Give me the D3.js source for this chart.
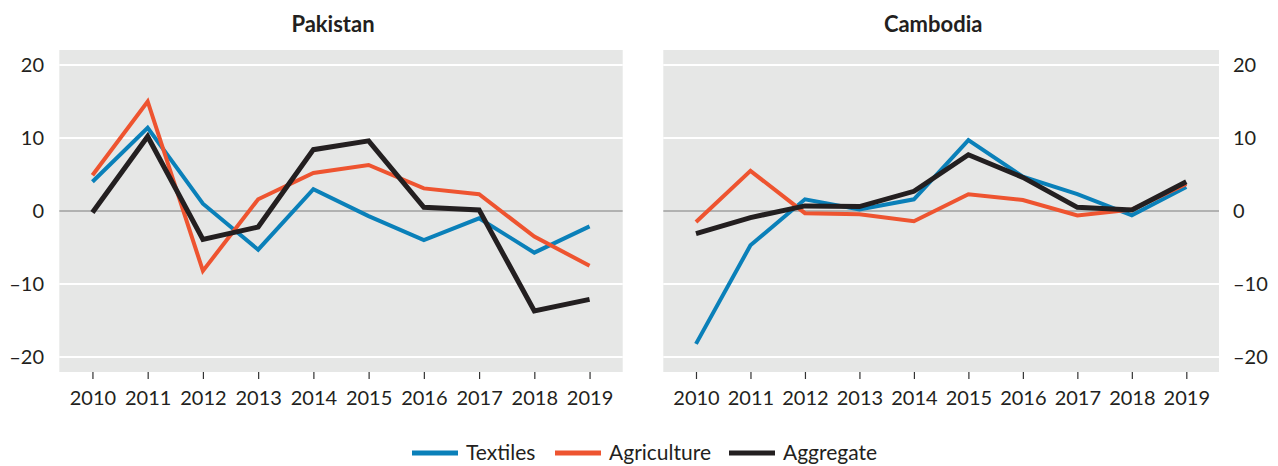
<!DOCTYPE html>
<html lang="en">
<head>
    <meta charset="UTF-8">
    <title>Textiles, Agriculture and Aggregate: Pakistan and Cambodia</title>
    <script src="https://d3js.org/d3.v7.min.js"></script>
    <style>
        body {
            margin: 0;
            background: #fff;
            font-family: Lato, "Open Sans", sans-serif;
        }
        svg text {
            fill: #231f20;
        }
    </style>
</head>
<body>
    <svg id="chart" width="1278" height="466"></svg>
    <script>
        const years = ["2010", "2011", "2012", "2013", "2014", "2015", "2016", "2017", "2018", "2019"];
        const seriesNames = ["Textiles", "Agriculture", "Aggregate"];
        const yTicks = [-20, -10, 0, 10, 20];

        // Pakistan
        const pakTextiles = [4.0, 11.4, 1.0, -5.3, 3.0, -0.7, -4.0, -1.0, -5.7, -2.1];
        const pakAgriculture = [4.9, 15.0, -8.2, 1.6, 5.2, 6.3, 3.1, 2.3, -3.5, -7.5];
        const pakAggregate = [-0.2, 10.2, -3.9, -2.2, 8.4, 9.6, 0.5, 0.15, -13.7, -12.1];

        // Cambodia
        const camTextiles = [-18.2, -4.7, 1.6, 0.2, 1.6, 9.7, 4.7, 2.3, -0.6, 3.3];
        const camAgriculture = [-1.5, 5.5, -0.3, -0.45, -1.4, 2.3, 1.5, -0.6, 0.2, 3.7];
        const camAggregate = [-3.1, -0.9, 0.7, 0.6, 2.7, 7.7, 4.6, 0.5, 0.15, 4.0];

        const colors = {
            Textiles: "#0a80b9",
            Agriculture: "#ee5430",
            Aggregate: "#231f20"
        };
        const widths = { Textiles: 4, Agriculture: 4, Aggregate: 5 };

        const svg = d3.select("#chart");
        const plotTop = 50, plotBottom = 372;

        const y = d3.scaleLinear()
            .domain([-22.05, 22.05])
            .range([plotBottom, plotTop]);

        function drawPanel(title, values, left, right, side) {
            const g = svg.append("g");

            const x = d3.scalePoint()
                .domain(years)
                .range([left, right])
                .padding(0.6);

            g.append("rect")
                .attr("x", left)
                .attr("y", plotTop)
                .attr("width", right - left)
                .attr("height", plotBottom - plotTop)
                .attr("fill", "#e6e7e6");

            // grid lines
            g.selectAll(".grid")
                .data(yTicks.filter(d => d !== 0))
                .enter()
                .append("line")
                .attr("x1", left)
                .attr("x2", right)
                .attr("y1", d => y(d))
                .attr("y2", d => y(d))
                .attr("stroke", "#fff")
                .attr("stroke-width", 2);

            g.append("line")
                .attr("x1", left)
                .attr("x2", right)
                .attr("y1", y(0))
                .attr("y2", y(0))
                .attr("stroke", "#7d7d7d")
                .attr("stroke-width", 1);

            // x axis
            const xAxis = g.append("g")
                .attr("transform", `translate(0, ${plotBottom})`)
                .call(d3.axisBottom(x).tickSize(7).tickPadding(12));
            xAxis.select(".domain").remove();
            xAxis.selectAll(".tick line").attr("stroke", "#333").attr("stroke-width", 1.2);
            xAxis.selectAll(".tick text")
                .attr("font-family", "Lato, sans-serif")
                .attr("font-size", "20px")
                .attr("fill", "#231f20");

            // y axis
            const yAxisGen = side === "left"
                ? d3.axisLeft(y).tickValues(yTicks).tickSize(0).tickPadding(0)
                : d3.axisRight(y).tickValues(yTicks).tickSize(0).tickPadding(0);
            const yAxis = g.append("g")
                .attr("transform", `translate(${side === "left" ? 44 : 1233}, 0)`)
                .call(yAxisGen.tickFormat(d => d < 0 ? "\u2013" + Math.abs(d) : d));
            yAxis.select(".domain").remove();
            yAxis.selectAll(".tick text")
                .attr("font-family", "Lato, sans-serif")
                .attr("font-size", "20px")
                .attr("fill", "#231f20");

            // lines
            const line = d3.line()
                .x((d, i) => x(years[i]))
                .y(d => y(d));

            seriesNames.forEach(name => {
                g.append("path")
                    .datum(values[name])
                    .attr("d", line)
                    .attr("fill", "none")
                    .attr("stroke", colors[name])
                    .attr("stroke-width", widths[name])
                    .attr("stroke-linejoin", "miter")
                    .attr("stroke-linecap", "butt");
            });

            g.append("text")
                .attr("x", (left + right) / 2 - 8)
                .attr("y", 32)
                .attr("text-anchor", "middle")
                .attr("font-size", "22px")
                .attr("font-weight", "bold")
                .text(title);
        }

        drawPanel("Pakistan",
            { Textiles: pakTextiles, Agriculture: pakAgriculture, Aggregate: pakAggregate },
            59.3, 622.7, "left");
        drawPanel("Cambodia",
            { Textiles: camTextiles, Agriculture: camAgriculture, Aggregate: camAggregate },
            663.3, 1219, "right");

        // legend
        const legendX = [412, 555, 729];
        const legend = svg.append("g");
        seriesNames.forEach((name, i) => {
            const item = legend.append("g").attr("transform", `translate(${legendX[i]}, 453)`);
            item.append("line")
                .attr("x1", 0)
                .attr("x2", 46)
                .attr("y1", 0)
                .attr("y2", 0)
                .attr("stroke", colors[name])
                .attr("stroke-width", 5);
            item.append("text")
                .attr("x", 54)
                .attr("y", 0)
                .attr("dy", "0.35em")
                .attr("font-size", "21px")
                .text(name);
        });
    </script>
</body>
</html>
